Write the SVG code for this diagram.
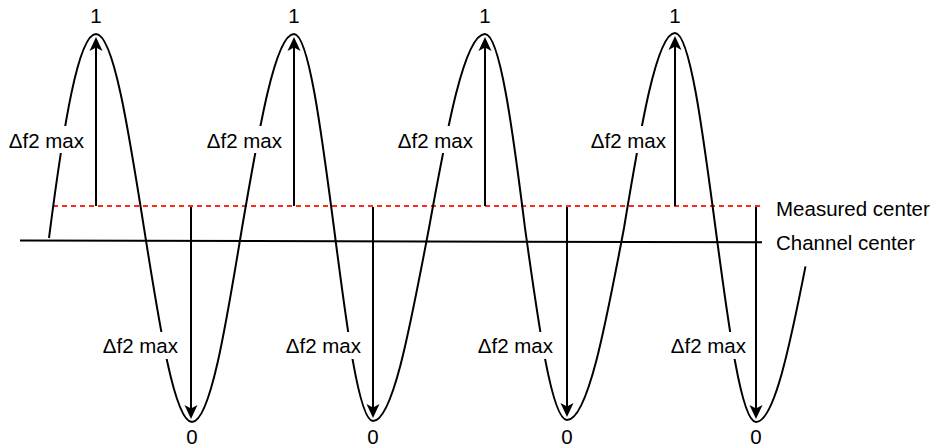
<svg xmlns="http://www.w3.org/2000/svg" width="937" height="447" viewBox="0 0 937 447">
<style>
text{font-family:"Liberation Sans",Arial,sans-serif;font-size:20.5px;fill:#000}
.wave{fill:none;stroke:#000;stroke-width:2}
.arr{stroke:#000;stroke-width:2;fill:none;marker-end:url(#ah)}
.ln{stroke:#000;stroke-width:2;fill:none}
.meas{stroke:#ff2a1a;stroke-width:2;stroke-dasharray:5 4;fill:none}
.bg{fill:#fff}
</style>
<defs>
<marker id="ah" markerUnits="userSpaceOnUse" markerWidth="18" markerHeight="14" viewBox="-16 -7 18 14" refX="-4" refY="0" orient="auto">
<path d="M0,0 L-14,-6.5 L-10.5,0 L-14,6.5 Z" fill="#000"/>
</marker>
</defs>
<rect width="937" height="447" fill="#fff"/>
<g id="reference-lines">
<line class="ln" x1="20" y1="240.5" x2="762" y2="242.3"/>
<line class="meas" x1="53" y1="206" x2="763" y2="206"/>
</g>
<g id="wave">
<path class="wave" d="M49,238 C63.5,125 78.3,34 96,34 C113.4,34 128.3,128.6 144,228 C159.7,327.4 174.6,422 192,422 C210.1,422 225.7,327.4 242,228 C259,128.6 275.2,34 294,34 C308.5,34 321,128.6 334,228 C346.7,326.9 358.9,421 373,421 C392.9,421 410.1,326.9 429,228 C447,128.6 464.4,34 485,34 C499.8,34 512.6,128.6 525,228 C538.7,326.4 551.8,420 567,420 C587.6,420 605.4,326.4 624,228 C640.6,128.1 656.5,33 675,33 C689.7,33 702.3,128.1 715.5,228 C728.7,327.4 741.3,422 756,422 C773.8,422 789.5,347.6 805.5,266.4"/>
</g>
<g id="connectors">
<line class="arr" x1="96" y1="206" x2="96" y2="41"/>
<line class="arr" x1="294" y1="206" x2="294" y2="41"/>
<line class="arr" x1="485" y1="206" x2="485" y2="41"/>
<line class="arr" x1="675" y1="206" x2="675" y2="40"/>
<line class="arr" x1="191" y1="207" x2="191" y2="415"/>
<line class="arr" x1="373" y1="207" x2="373" y2="414"/>
<line class="arr" x1="567" y1="207" x2="567" y2="413"/>
<line class="arr" x1="756" y1="207" x2="756" y2="415"/>
</g>
<g id="up-label-1"><rect class="bg" x="5" y="126" width="81" height="27"/><text x="84" y="148" text-anchor="end">Δf2 max</text></g>
<g id="up-label-2"><rect class="bg" x="203" y="126" width="81" height="27"/><text x="282" y="148" text-anchor="end">Δf2 max</text></g>
<g id="up-label-3"><rect class="bg" x="394" y="126" width="81" height="27"/><text x="473" y="148" text-anchor="end">Δf2 max</text></g>
<g id="up-label-4"><rect class="bg" x="587" y="126" width="81" height="27"/><text x="666" y="148" text-anchor="end">Δf2 max</text></g>
<g id="down-label-1"><rect class="bg" x="99" y="332" width="81" height="27"/><text x="178" y="353" text-anchor="end">Δf2 max</text></g>
<g id="down-label-2"><rect class="bg" x="282" y="332" width="81" height="27"/><text x="361" y="353" text-anchor="end">Δf2 max</text></g>
<g id="down-label-3"><rect class="bg" x="474" y="332" width="81" height="27"/><text x="553" y="353" text-anchor="end">Δf2 max</text></g>
<g id="down-label-4"><rect class="bg" x="667" y="332" width="81" height="27"/><text x="746" y="353" text-anchor="end">Δf2 max</text></g>
<g id="one-1"><text x="96" y="23" text-anchor="middle">1</text></g>
<g id="one-2"><text x="294" y="23" text-anchor="middle">1</text></g>
<g id="one-3"><text x="485" y="23" text-anchor="middle">1</text></g>
<g id="one-4"><text x="675" y="23" text-anchor="middle">1</text></g>
<g id="zero-1"><text x="192" y="444" text-anchor="middle">0</text></g>
<g id="zero-2"><text x="373" y="444" text-anchor="middle">0</text></g>
<g id="zero-3"><text x="567" y="444" text-anchor="middle">0</text></g>
<g id="zero-4"><text x="756" y="444" text-anchor="middle">0</text></g>
<g id="measured-center-label"><text x="776" y="215.5">Measured center</text></g>
<g id="channel-center-label"><text x="776" y="250">Channel center</text></g>
</svg>
